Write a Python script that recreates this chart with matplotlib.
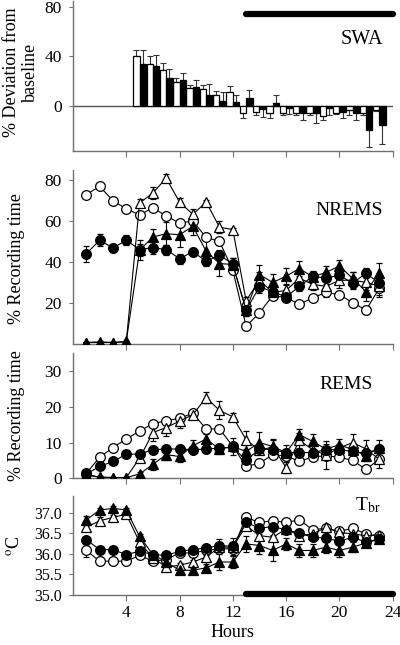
import matplotlib.pyplot as plt

plt.rcParams['font.family'] = 'serif'
plt.rcParams['font.serif'] = ['Liberation Serif', 'DejaVu Serif']
plt.rcParams['mathtext.fontset'] = 'stix'

# ---- data ----
hours = list(range(1, 24))
dark_period = [13, 24]

swa_hours = list(range(5, 24))
swa_open = [40, 34, 29, 19.5, 14.7, 14, 9, 11.5, -6, -4.5, -5.5, -5.5, -6, -5.5,
            -8, -5.5, -3.5, -5.5, -3]
swa_open_err = [5.5, 6, 5.5, 3.5, 2, 3.3, 3, 5, 3.3, 3, 4, 1.5, 1.5, 2, 3.5,
                1.2, 3.5, 2, 1]
swa_filled = [34, 32, 23, 21, 15, 8.5, 4, 3, 6.3, -2, 2.7, -1.5, -6, -6, -1.5,
              -5, -6, -19.5, -15]
swa_filled_err = [11, 9, 7, 6, 6, 9, 7, 6.3, 6.8, 7, 6.6, 5, 5, 8, 5.5, 5, 5,
                  13.5, 16]

nrem_oc = [73, 77, 70, 66, 63, 66.5, 62.5, 59, 60, 52, 50, 36, 8.5, 15, 23.5,
           22.5, 19.2, 22.4, 25, 24, 20, 16.4, 27]
nrem_oc_err = [1, 1, 1, 1, 1.5, 1.5, 1, 1.5, 1.5, 1.5, 1.5, 2, 1.5, 1, 1.5,
               1, 1, 1, 1.5, 1.5, 2, 2, 3]
nrem_fc = [44, 50.6, 46.8, 50.6, 46, 47, 46, 41.6, 45, 40.3, 43.3, 39, 16.3,
           27.8, 25.4, 22.8, 28, 33, 32, 33.5, 29.5, 34.5, 29.5]
nrem_fc_err = [4, 3, 2, 2.5, 3, 3, 2.5, 2.5, 2, 2.5, 2.5, 3, 3, 3, 2.5, 2,
               2.5, 2.5, 3, 2.5, 3, 2.5, 3]
nrem_ot = [0.5, 0.5, 0.5, 0.8, 68.8, 73.8, 81, 69.3, 63.3, 69.3, 57, 55.8, 21,
           31, 25, 26, 32, 29, 28, 31, 31, 30, 28]
nrem_ot_err = [0.3, 0.3, 0.3, 0.3, 2, 3, 2, 2, 2.5, 1, 3, 1, 2, 4, 3, 2.5, 3,
               3, 5, 4, 4, 4, 5]
nrem_ft = [0.5, 0.8, 0.5, 1, 45.7, 52.2, 53.8, 53.3, 57.4, 45.2, 39.2, 38.7,
           16.4, 33.8, 29.9, 33, 36.7, 32.7, 34.8, 38, 31.9, 25.4, 34.6]
nrem_ft_err = [0.3, 0.3, 0.3, 0.3, 5, 4, 5.5, 6, 4, 6, 6, 3, 3, 4.5, 4, 4,
               3.5, 2.5, 3, 3, 3, 4.5, 5]

rem_oc = [1.4, 5.9, 8.6, 11, 13.2, 15.3, 16.1, 16.8, 18.2, 13.8, 13.8, 9, 3.3,
          4.2, 6.6, 6.3, 4.7, 6, 6.3, 5.9, 5, 2.5, 5.3]
rem_oc_err = [0.5, 0.6, 0.6, 0.6, 0.7, 0.8, 0.8, 0.8, 0.9, 0.8, 0.8, 1, 0.8,
              0.6, 0.8, 0.8, 0.6, 0.8, 0.8, 0.8, 0.8, 0.6, 0.8]
rem_fc = [1.2, 3.3, 4.7, 6.7, 6.8, 8, 8.2, 8.2, 8, 8.2, 8.4, 8.7, 5, 8.2, 8,
          7.2, 7.2, 7.2, 8, 8, 7.5, 7, 8.3]
rem_fc_err = [0.6, 0.7, 0.7, 0.8, 0.9, 1, 1, 1, 1, 1, 1, 1.2, 1, 1, 1, 1, 1,
              1, 1, 1, 1, 1, 1]
rem_ot = [1, 0.3, 0.2, 0.2, 5.6, 12.8, 14.2, 16, 17.8, 22.6, 19, 17.2, 10.8,
          7.8, 8.8, 3, 10.6, 8, 6.5, 8.5, 10, 8.2, 5.3]
rem_ot_err = [0.3, 0.2, 0.2, 0.2, 1, 2.5, 2.5, 2, 1, 1.5, 2.5, 1, 2.5, 1, 2,
              1.5, 2, 2, 4, 1, 2.5, 2.5, 2.5]
rem_ft = [1, 0.3, 0.2, 0.2, 1.2, 3.9, 6.6, 6.1, 9.1, 11, 8.2, 8.9, 7.5, 10,
          8.9, 7.2, 12.2, 10.3, 8.2, 9.4, 8, 6.3, 8.6]
rem_ft_err = [0.3, 0.2, 0.2, 0.2, 0.5, 1.5, 1.5, 1.5, 1.5, 1.5, 1.5, 2.5, 2.5,
              3, 2, 2, 1.5, 2, 1.5, 1.5, 1.5, 1.5, 2]

tbr_oc = [36.08, 35.82, 35.82, 35.82, 35.96, 35.82, 35.86, 36.02, 36.02, 36.08,
          36.12, 36.12, 36.88, 36.76, 36.8, 36.76, 36.82, 36.58, 36.62, 36.54,
          36.62, 36.48, 36.42]
tbr_oc_err = [0.15, 0.1, 0.06, 0.05, 0.06, 0.05, 0.05, 0.05, 0.05, 0.05, 0.06,
              0.06, 0.05, 0.05, 0.05, 0.05, 0.05, 0.05, 0.05, 0.05, 0.05, 0.05,
              0.06]
tbr_fc = [36.34, 36.1, 36.1, 35.98, 36.06, 35.98, 35.96, 36.06, 36.1, 36.14,
          36.2, 36.18, 36.76, 36.62, 36.66, 36.58, 36.5, 36.4, 36.38, 36.3,
          36.4, 36.28, 36.36]
tbr_fc_err = [0.06, 0.05, 0.05, 0.05, 0.05, 0.05, 0.05, 0.05, 0.05, 0.05,
              0.15, 0.2, 0.05, 0.05, 0.05, 0.05, 0.05, 0.05, 0.05, 0.05, 0.05,
              0.05, 0.05]
tbr_ot = [36.64, 36.8, 36.88, 36.96, 36.28, 35.9, 35.68, 35.72, 35.8, 35.92,
          36.16, 36.16, 36.68, 36.44, 36.4, 36.6, 36.44, 36.48, 36.64, 36.52,
          36.48, 36.44, 36.46]
tbr_ot_err = [0.05, 0.08, 0.06, 0.05, 0.05, 0.05, 0.08, 0.05, 0.05, 0.05,
              0.05, 0.05, 0.08, 0.05, 0.05, 0.05, 0.05, 0.05, 0.05, 0.05, 0.05,
              0.05, 0.06]
tbr_ft = [36.82, 37.06, 37.1, 37.06, 36.42, 35.98, 35.8, 35.6, 35.6, 35.66,
          35.8, 35.8, 36.24, 36.2, 36.08, 36.24, 36.08, 36.08, 36.16, 36.08,
          36.16, 36.26, 36.36]
tbr_ft_err = [0.1, 0.05, 0.05, 0.05, 0.05, 0.05, 0.05, 0.05, 0.05, 0.1, 0.2,
              0.15, 0.2, 0.2, 0.25, 0.15, 0.15, 0.15, 0.15, 0.15, 0.12, 0.08,
              0.08]

# ---- style ----
SPINE = '#707070'
FS_LAB = 13
FS_TICK = 12.5
MS = 7
LW = 0.8

fig = plt.figure(figsize=(4.0, 6.45), dpi=100)
L, W = 0.1825, 0.799
ax_swa = fig.add_axes([L, 0.7664, W, 0.2326])
ax_nr = fig.add_axes([L, 0.4674, W, 0.269])
ax_rem = fig.add_axes([L, 0.2585, W, 0.1938])
ax_t = fig.add_axes([L, 0.0775, W, 0.1535])

for ax in (ax_swa, ax_nr, ax_rem, ax_t):
    ax.spines['top'].set_visible(False)
    ax.spines['right'].set_visible(False)
    for s in ('left', 'bottom'):
        ax.spines[s].set_color(SPINE)
        ax.spines[s].set_linewidth(1)
    ax.set_xlim(0, 24)
    ax.set_xticks([4, 8, 12, 16, 20, 24])
    ax.tick_params(axis='x', direction='out', length=4, color=SPINE,
                   labelsize=FS_TICK)
    ax.tick_params(axis='y', direction='out', length=3, color=SPINE,
                   labelsize=FS_TICK, pad=5)
    if ax is not ax_t:
        ax.tick_params(axis='x', labelbottom=False)


def series(ax, y, err, marker, filled):
    ax.errorbar(hours, y, yerr=err, marker=marker, ms=MS, color='black',
                mfc='black' if filled else 'white', mec='black', mew=0.9,
                lw=LW, elinewidth=LW, capsize=2.5, capthick=LW, zorder=3)


# SWA
ax_swa.bar([h - 0.24 for h in swa_hours], swa_open, width=0.48,
           color='white', edgecolor='black', lw=0.9, zorder=2)
ax_swa.bar([h + 0.24 for h in swa_hours], swa_filled, width=0.48,
           color='black', edgecolor='black', lw=0.9, zorder=2)
for dx, vals, errs in ((-0.24, swa_open, swa_open_err),
                       (0.24, swa_filled, swa_filled_err)):
    lo = [0 if v >= 0 else e for v, e in zip(vals, errs)]
    hi = [e if v >= 0 else 0 for v, e in zip(vals, errs)]
    ax_swa.errorbar([h + dx for h in swa_hours], vals, yerr=[lo, hi],
                    fmt='none', ecolor='#333333', elinewidth=LW,
                    capsize=2.5, capthick=LW, zorder=1)
ax_swa.axhline(0, color='#555555', lw=1, zorder=1)
ax_swa.plot(dark_period, [74, 74], color='black', lw=4.5,
            solid_capstyle='round', clip_on=False)
ax_swa.set_ylim(-36, 85)
ax_swa.set_yticks([0, 40, 80])
ax_swa.text(23.3, 54, 'SWA', ha='right', va='center', fontsize=14.5)
ax_swa.set_ylabel('% Deviation from\nbaseline', fontsize=FS_LAB,
                  linespacing=1.15)
ax_swa.yaxis.set_label_coords(-0.105, 0.52)

# NREMS
series(ax_nr, nrem_oc, nrem_oc_err, 'o', False)
series(ax_nr, nrem_ot, nrem_ot_err, '^', False)
series(ax_nr, nrem_ft, nrem_ft_err, '^', True)
series(ax_nr, nrem_fc, nrem_fc_err, 'o', True)
ax_nr.set_ylim(0, 85)
ax_nr.set_yticks([20, 40, 60, 80])
ax_nr.text(23.3, 65, 'NREMS', ha='right', va='center', fontsize=14)
ax_nr.set_ylabel('% Recording time', fontsize=FS_LAB)
ax_nr.yaxis.set_label_coords(-0.15, 0.49)

# REMS
series(ax_rem, rem_oc, rem_oc_err, 'o', False)
series(ax_rem, rem_ot, rem_ot_err, '^', False)
series(ax_rem, rem_ft, rem_ft_err, '^', True)
series(ax_rem, rem_fc, rem_fc_err, 'o', True)
ax_rem.set_ylim(0, 35)
ax_rem.set_yticks([0, 10, 20, 30])
ax_rem.text(22.5, 26.2, 'REMS', ha='right', va='center', fontsize=14)
ax_rem.set_ylabel('% Recording time', fontsize=FS_LAB)
ax_rem.yaxis.set_label_coords(-0.15, 0.5)

# Tbr
series(ax_t, tbr_oc, tbr_oc_err, 'o', False)
series(ax_t, tbr_ot, tbr_ot_err, '^', False)
series(ax_t, tbr_ft, tbr_ft_err, '^', True)
series(ax_t, tbr_fc, tbr_fc_err, 'o', True)
ax_t.plot(dark_period, [35.03, 35.03], color='black', lw=4.5,
          solid_capstyle='round', clip_on=False, zorder=5)
ax_t.set_ylim(35.0, 37.4)
ax_t.set_yticks([35.0, 35.5, 36.0, 36.5, 37.0])
ax_t.set_yticklabels(['35.0', '35.5', '36.0', '36.5', '37.0'])
ax_t.tick_params(axis='y', labelsize=11.5)
ax_t.text(21.2, 37.17, r'T$_{\mathrm{br}}$', ha='left', va='center',
          fontsize=14)
ax_t.set_ylabel(r'$^{\mathrm{o}}$C', fontsize=FS_LAB)
ax_t.yaxis.set_label_coords(-0.155, 0.5)
ax_t.set_xlabel('Hours', fontsize=FS_LAB, labelpad=2)

fig.savefig('out.png', dpi=100)
